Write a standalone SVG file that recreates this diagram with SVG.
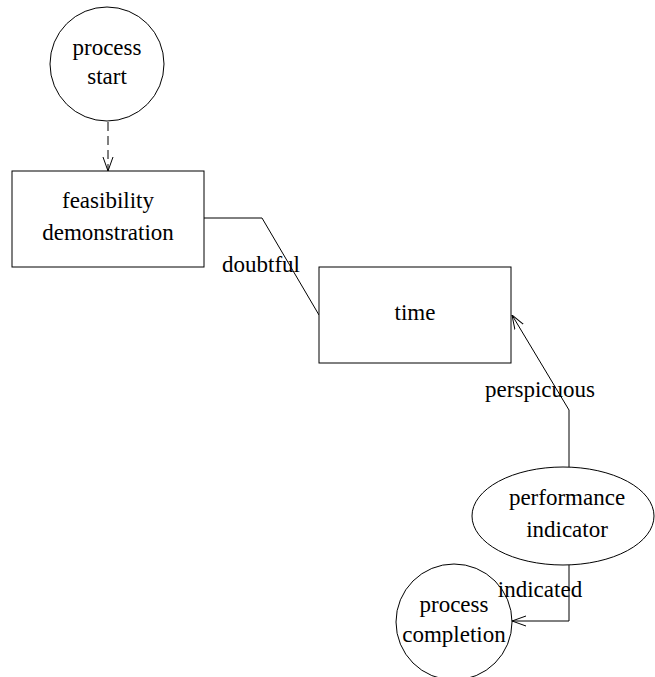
<svg xmlns="http://www.w3.org/2000/svg" width="655" height="677" viewBox="0 0 655 677">
<style>
.n{fill:#fff;stroke:#000;stroke-width:1}
.t{font-family:"Liberation Serif","Times New Roman",serif;font-size:23px;fill:#000;text-anchor:middle}
.c{fill:none;stroke:#000;stroke-width:1}
</style>
<defs>
<marker id="a" viewBox="0 0 14 12" refX="14" refY="6" markerWidth="14" markerHeight="12" markerUnits="userSpaceOnUse" orient="auto">
<path d="M0,1 L14,6 L0,11" fill="none" stroke="#000" stroke-width="1"/>
</marker>
</defs>
<rect width="655" height="677" fill="#fff"/>
<g id="connectors">
<path class="c" d="M108,122 L108,171" stroke-dasharray="9,5" marker-end="url(#a)"/>
<path class="c" d="M204,218 L262,218 L319,315"/>
<path class="c" d="M569,467 L569,410 L512,315" marker-end="url(#a)"/>
<path class="c" d="M569,565 L569,621 L512,621" marker-end="url(#a)"/>
</g>
<g id="process_start">
<circle class="n" cx="107" cy="64" r="57"/>
<text class="t" x="107" y="55">process</text>
<text class="t" x="107" y="84">start</text>
</g>
<g id="feasibility_demonstration">
<rect class="n" x="12" y="171" width="192" height="96"/>
<text class="t" x="108" y="208">feasibility</text>
<text class="t" x="108" y="240">demonstration</text>
</g>
<g id="time">
<rect class="n" x="319" y="267" width="192" height="96"/>
<text class="t" x="415" y="320">time</text>
</g>
<g id="performance_indicator">
<ellipse class="n" cx="563" cy="516" rx="91" ry="49"/>
<text class="t" x="567" y="505">performance</text>
<text class="t" x="567" y="537">indicator</text>
</g>
<g id="process_completion">
<circle class="n" cx="454" cy="622" r="58"/>
<text class="t" x="454" y="612">process</text>
<text class="t" x="454" y="642">completion</text>
</g>
<g id="labels">
<text class="t" x="261" y="272">doubtful</text>
<text class="t" x="540" y="397">perspicuous</text>
<text class="t" x="540" y="597">indicated</text>
</g>
</svg>
